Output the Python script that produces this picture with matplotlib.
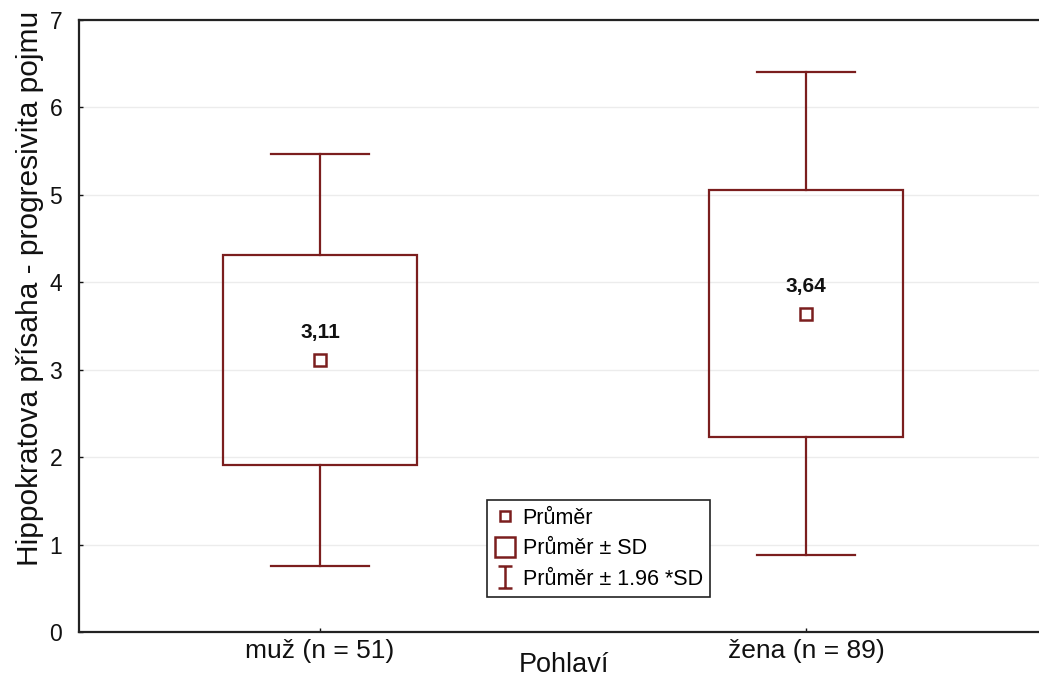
import matplotlib
matplotlib.use("Agg")
import matplotlib.pyplot as plt
from matplotlib.lines import Line2D
from matplotlib.patches import Rectangle
from matplotlib.path import Path

plt.rcParams['font.family'] = ['Liberation Sans', 'DejaVu Sans']

# Data
categories = ["muž (n = 51)", "žena (n = 89)"]
means = [3.11, 3.64]
sds = [1.20, 1.41]
mean_labels = ["3,11", "3,64"]
y_ticks = [0, 1, 2, 3, 4, 5, 6, 7]

color = "#7b1e1e"
lw = 1.6
box_w = 0.40
cap_w = 0.20

fig = plt.figure(figsize=(10.39, 6.79), dpi=100)
ax = fig.add_axes([79 / 1039, 1 - 632 / 679, (1049 - 79) / 1039, (632 - 20) / 679])

for i, (m, s) in enumerate(zip(means, sds)):
    lo, hi = m - s, m + s
    wlo, whi = m - 1.96 * s, m + 1.96 * s
    ax.add_patch(Rectangle((i - box_w / 2, lo), box_w, hi - lo, fill=False,
                           edgecolor=color, linewidth=lw, zorder=3))
    ax.plot([i, i], [hi, whi], color=color, lw=lw, zorder=3)
    ax.plot([i, i], [wlo, lo], color=color, lw=lw, zorder=3)
    ax.plot([i - cap_w / 2, i + cap_w / 2], [whi, whi], color=color, lw=lw, zorder=3)
    ax.plot([i - cap_w / 2, i + cap_w / 2], [wlo, wlo], color=color, lw=lw, zorder=3)
    ax.plot([i], [m], marker='s', markersize=8, markerfacecolor='white',
            markeredgecolor=color, markeredgewidth=1.8, linestyle='none', zorder=4)
    ax.annotate(mean_labels[i], (i, m), xytext=(0, 13), textcoords='offset points',
                ha='center', va='bottom', fontsize=15, fontweight='bold', color='#111111')

ax.set_xlim(-0.496, 1.5)
ax.set_ylim(0, 7)
ax.set_yticks(y_ticks)
ax.set_xticks(range(len(categories)))
ax.set_xticklabels(categories, fontsize=19)
ax.tick_params(axis='both', direction='in', length=3, width=1, colors='#111111')
ax.tick_params(axis='y', labelsize=16.5, pad=12)
ax.tick_params(axis='x', pad=5)
ax.yaxis.grid(True, color='#ececec', linewidth=1)
ax.set_axisbelow(True)
for side in ['left', 'bottom', 'top']:
    ax.spines[side].set_linewidth(1.6)
    ax.spines[side].set_color('#222222')
ax.spines['right'].set_visible(False)

ax.set_xlabel("Pohlaví", fontsize=19.5, color='#111111')
ax.xaxis.set_label_coords(0.5, -0.054)
ax.xaxis.label.set_va('center')
ax.set_ylabel("Hippokratova přísaha - progresivita pojmu", fontsize=21.5, color='#111111')
ax.yaxis.set_label_coords(-0.0505, 0.562)
ax.yaxis.label.set_va('center')

# Legend handles
ebar_path = Path([(-0.65, 1), (0.65, 1), (0, 1), (0, -1), (-0.65, -1), (0.65, -1)],
                 [Path.MOVETO, Path.LINETO, Path.MOVETO, Path.LINETO, Path.MOVETO, Path.LINETO])
handles = [
    Line2D([], [], marker='s', markersize=7.5, markerfacecolor='white', markeredgecolor=color,
           markeredgewidth=1.8, linestyle='none'),
    Line2D([], [], marker='s', markersize=14, markerfacecolor='white', markeredgecolor=color,
           markeredgewidth=1.8, linestyle='none'),
    Line2D([], [], marker=ebar_path, markersize=16, markerfacecolor='none', markeredgecolor=color,
           markeredgewidth=1.8, linestyle='none'),
]
labels = ["Průměr", "Průměr ± SD", "Průměr ± 1.96 *SD"]
leg = ax.legend(handles, labels, loc='upper left',
                bbox_to_anchor=((487 - 79) / 970, 1 - (500 - 20) / 612),
                fontsize=15.5, frameon=True, fancybox=False, framealpha=1, edgecolor='#222222',
                handlelength=1.0, handletextpad=0.3, labelspacing=0.45, borderpad=0.35,
                borderaxespad=0)
leg.get_frame().set_linewidth(1.2)

fig.savefig("out.png", dpi=100)
